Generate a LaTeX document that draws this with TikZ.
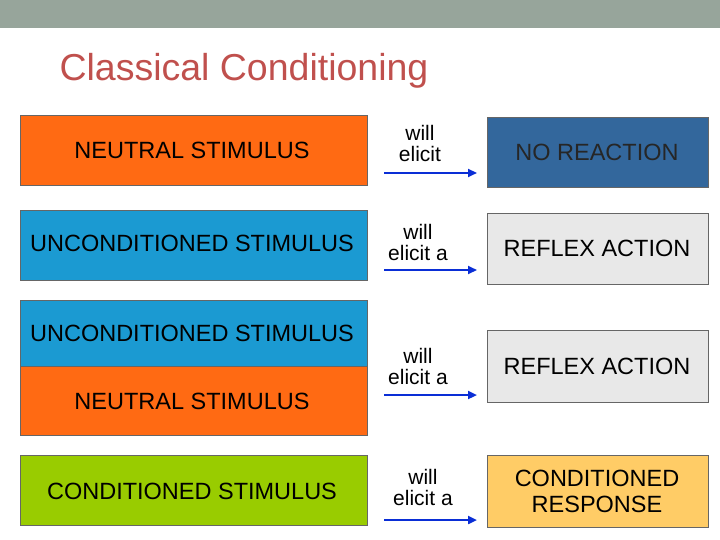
\documentclass[tikz,border=0pt]{standalone}
\usepackage{fontspec}
\setmainfont{Liberation Sans}
\usetikzlibrary{arrows.meta}
\definecolor{topband}{HTML}{97A59B}
\definecolor{titlec}{HTML}{C0504D}
\definecolor{orng}{HTML}{FF6A13}
\definecolor{lblue}{HTML}{1B9AD2}
\definecolor{lgreen}{HTML}{99CC00}
\definecolor{dblue}{HTML}{33679C}
\definecolor{lgray}{HTML}{E8E8E8}
\definecolor{yel}{HTML}{FFCC66}
\definecolor{arr}{HTML}{0A2ED6}
\begin{document}
\begin{tikzpicture}[x=1pt,y=-1pt,
  box/.style={draw=gray!80!black,line width=0.8pt,inner sep=0},
  lbl/.style={font=\fontsize{23.5}{26}\selectfont,align=center},
  small/.style={font=\fontsize{21}{21}\selectfont,align=center},
  conn/.style={draw=arr,line width=2.5pt,-{Triangle[length=9pt,width=8pt]}}]
\useasboundingbox (0,0) rectangle (720,540);
\fill[topband] (0,0) rectangle (720,28);
\node[anchor=west,text=titlec,font=\fontsize{37.5}{40}\selectfont] (title) at (56,71) {Classical Conditioning};
% left
\draw[box,fill=orng] (20,115) rectangle (367,185);
\node[lbl] (n1) at (192,150) {NEUTRAL STIMULUS};
\draw[box,fill=lblue] (20,210) rectangle (367,280);
\node[lbl] (u1) at (192,243) {UNCONDITIONED STIMULUS};
\draw[box,fill=lblue] (20,300) rectangle (367,366);
\draw[box,fill=orng] (20,366) rectangle (367,435);
\node[lbl] (u2) at (192,333) {UNCONDITIONED STIMULUS};
\node[lbl] (n2) at (192,401) {NEUTRAL STIMULUS};
\draw[box,fill=lgreen] (20,455) rectangle (367,525);
\node[lbl] (c1) at (192,491) {CONDITIONED STIMULUS};
% right
\draw[box,fill=dblue] (487,117) rectangle (708,187);
\node[lbl,text=black!85] (r1) at (597,152) {NO REACTION};
\draw[box,fill=lgray] (487,213) rectangle (708,284);
\node[lbl] (r2) at (597,248) {REFLEX ACTION};
\draw[box,fill=lgray] (487,330) rectangle (708,402);
\node[lbl] (r3) at (597,366) {REFLEX ACTION};
\draw[box,fill=yel] (487,455) rectangle (708,527);
\node[lbl] (r4) at (597,491) {CONDITIONED\\RESPONSE};
% middle
\node[small] (w1) at (420,143) {will\\elicit};
\node[small] (w2) at (418,242) {will\\elicit a};
\node[small] (w3) at (418,366) {will\\elicit a};
\node[small] (w4) at (423,487) {will\\elicit a};
\coordinate (a1) at (384,173); \coordinate (b1) at (477,173);
\coordinate (a2) at (384,270); \coordinate (b2) at (477,270);
\coordinate (a3) at (384,395); \coordinate (b3) at (477,395);
\coordinate (a4) at (384,520); \coordinate (b4) at (477,520);
\draw[conn] (a1) -- (b1);
\draw[conn] (a2) -- (b2);
\draw[conn] (a3) -- (b3);
\draw[conn] (a4) -- (b4);
\end{tikzpicture}
\end{document}
